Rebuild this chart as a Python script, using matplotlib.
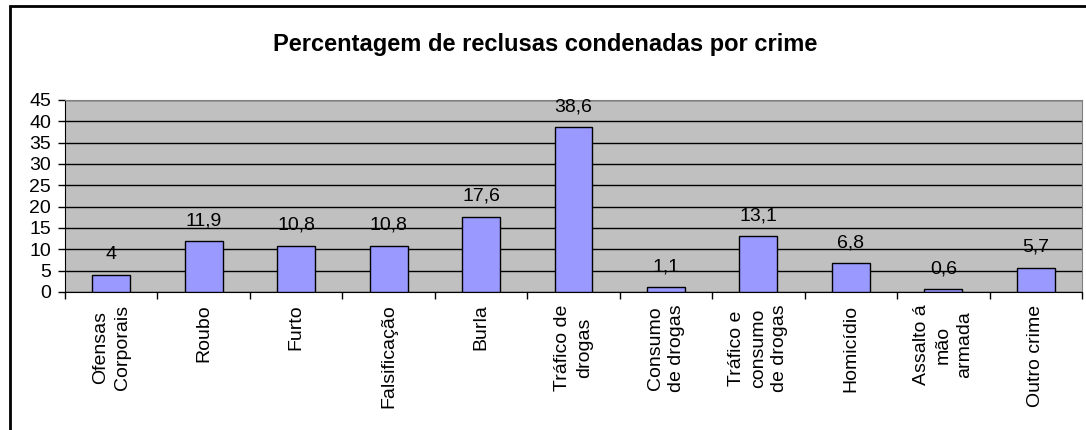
import matplotlib.pyplot as plt
import numpy as np
from matplotlib.patches import Rectangle

plt.rcParams['font.family'] = ['Liberation Sans', 'DejaVu Sans']

categorias = ["Ofensas\nCorporais", "Roubo", "Furto", "Falsificação", "Burla",
              "Tráfico de\ndrogas", "Consumo\nde drogas", "Tráfico e\nconsumo\nde drogas",
              "Homicídio", "Assalto á\nmão\narmada", "Outro crime"]
valores = [4, 11.9, 10.8, 10.8, 17.6, 38.6, 1.1, 13.1, 6.8, 0.6, 5.7]
rotulos = ["4", "11,9", "10,8", "10,8", "17,6", "38,6", "1,1", "13,1", "6,8", "0,6", "5,7"]

fig = plt.figure(figsize=(10.86, 4.30), dpi=100)
ax = fig.add_axes([65 / 1086, 1 - 292 / 430, (1082 - 65) / 1086, 192 / 430])
ax.set_facecolor("#C0C0C0")

x = np.arange(len(valores))
bars = ax.bar(x, valores, width=0.41, color="#9999FF", edgecolor="black", linewidth=1, zorder=3)
for b, r in zip(bars, rotulos):
    ax.annotate(r, (b.get_x() + b.get_width() / 2, b.get_height()), xytext=(0, 11.5),
                textcoords="offset points", ha="center", va="baseline", fontsize=14)

ax.set_xlim(-0.5, len(valores) - 0.5)
ax.set_ylim(0, 45)
ax.set_yticks(range(0, 46, 5))
ax.yaxis.grid(True, color="black", linewidth=1, zorder=1)
ax.set_axisbelow(True)
ax.tick_params(axis="y", length=5, width=1, labelsize=14, pad=5)

ax.set_xticks(np.arange(-0.5, len(valores), 1))
ax.set_xticklabels([])
ax.tick_params(axis="x", which="major", length=5, width=1)
ax.set_xticks(x, minor=True)
ax.set_xticklabels(categorias, minor=True, rotation=90, ha="center", va="top",
                   multialignment="center", fontsize=14, linespacing=1.35)
ax.tick_params(axis="x", which="minor", length=0, pad=9)

for s in ["top", "right"]:
    ax.spines[s].set_color("#808080")
for s in ["left", "bottom"]:
    ax.spines[s].set_color("black")

fig.text(545 / 1086, 1 - 45 / 430, "Percentagem de reclusas condenadas por crime",
         ha="center", va="center", fontsize=17, fontweight="bold")

fig.patches.append(Rectangle((10 / 1086, -0.1), 1.2, 1 - 6 / 430 + 0.1, transform=fig.transFigure,
                             fill=False, edgecolor="black", linewidth=2))

fig.savefig("out.png", dpi=100)
